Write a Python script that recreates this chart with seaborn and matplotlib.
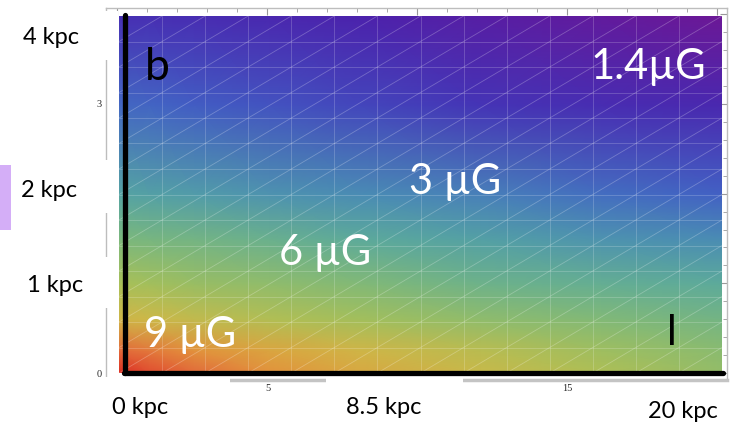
import matplotlib
matplotlib.use("Agg")
import matplotlib.pyplot as plt
from matplotlib.colors import LinearSegmentedColormap, Normalize
from matplotlib.patches import Rectangle
from matplotlib.lines import Line2D
import seaborn as sns
import numpy as np

# grid of the field map
r_kpc = [0, 1, 2.5, 5, 8, 12, 16, 20]
z_kpc = [0, 0.25, 0.6, 1, 1.5, 2, 3, 4]
b_field = [
    [9.0, 8.7, 8.4, 7.9, 7.4, 6.9, 6.4, 5.9],
    [8.4, 8.2, 7.9, 7.5, 7.1, 6.6, 6.1, 5.7],
    [7.1, 7.0, 6.8, 6.5, 6.2, 5.8, 5.5, 5.2],
    [6.3, 6.2, 6.0, 5.8, 5.5, 5.1, 4.9, 4.7],
    [5.4, 5.3, 5.2, 5.0, 4.7, 4.4, 4.1, 3.9],
    [4.5, 4.4, 4.3, 4.1, 3.9, 3.7, 3.4, 3.2],
    [3.3, 3.25, 3.15, 3.0, 2.8, 2.5, 2.3, 2.2],
    [2.4, 2.35, 2.3, 2.2, 2.0, 1.8, 1.6, 1.4],
]

# colour stops (field in uG -> colour)
stop_values = [1.4, 2.0, 2.6, 3.2, 3.9, 4.6, 5.4, 6.3, 7.0, 7.8, 8.5, 9.0]
stop_colors = ["#6c1896", "#4c22ac", "#4438b8", "#4262c4", "#4a8cb4", "#58a8a0",
               "#7cb87c", "#a8c058", "#cdb848", "#e29a3c", "#e2623a", "#dc2c22"]

field_labels = ["9 µG", "6 µG", "3 µG", "1.4µG"]
dist_labels = ["4 kpc", "2 kpc", "1 kpc", "0 kpc", "8.5 kpc", "20 kpc"]

sns.set_style("white")
plt.rcParams["font.family"] = ["Lato", "DejaVu Sans"]

W, H = 730, 422
fig = plt.figure(figsize=(W / 100, H / 100), dpi=100)


def fx(x):
    return x / W


def fy(y):
    return 1 - y / H


def white_box(x, y, w, h, color="white"):
    fig.add_artist(Rectangle((fx(x), fy(y + h)), w / W, h / H, transform=fig.transFigure,
                             facecolor=color, edgecolor="none", zorder=1))


# Mathematica style frame behind the image
frame = fig.add_axes([fx(106), fy(380), 621 / W, 372 / H], zorder=0)
frame.set_xlim(-0.383, 20.32)
frame.set_ylim(-0.078, 4.07)
frame.set_facecolor("none")
for side in ["left", "top", "right"]:
    frame.spines[side].set_color("#bdbdbd")
    frame.spines[side].set_linewidth(1.0)
frame.spines["bottom"].set_color("#c4c4c4")
frame.spines["bottom"].set_linewidth(2.5)
frame.set_xticks([0, 5, 10, 15, 20])
frame.set_xticklabels(["", "5", "", "15", ""])
frame.set_xticks(np.arange(0, 21, 1), minor=True)
frame.set_yticks([0, 1, 2, 3, 4])
frame.set_yticklabels(["0", "", "", "3", ""])
frame.set_yticks(np.arange(0, 4.01, 0.2), minor=True)
frame.tick_params(which="both", direction="in", top=True, right=True, color="#9a9a9a",
                  labelsize=7.5, pad=3)
frame.tick_params(which="major", length=5, width=0.8)
frame.tick_params(which="minor", length=3, width=0.6)
for lab in frame.get_xticklabels() + frame.get_yticklabels():
    lab.set_family("Liberation Serif")

# slide text boxes hiding parts of the frame
white_box(86, 11, 32, 49)
white_box(86, 160, 32, 53)
white_box(86, 257, 32, 51)
white_box(98, 377, 132, 45)
white_box(326, 376, 137, 46)
white_box(630, 386, 100, 36)
white_box(0, 165, 11, 65, color="#d4aef7")

# field map
ax = fig.add_axes([fx(119), fy(373), 603 / W, 357 / H], zorder=2)
cmap = LinearSegmentedColormap.from_list(
    "field", [((v - 1.4) / (9.0 - 1.4), c) for v, c in zip(stop_values, stop_colors)])
ax.pcolormesh(r_kpc, z_kpc, np.array(b_field), shading="gouraud", cmap=cmap,
              norm=Normalize(1.4, 9.0))
ax.set_xlim(0, 20)
ax.set_ylim(0, 4)
ax.axis("off")

# faint mesh lines
for k in range(1, 14):
    ax.axvline(k * 20 / 14, color="white", lw=0.6, alpha=0.22)
    ax.axhline(k * 4 / 14, color="white", lw=0.6, alpha=0.22)
for k in range(-14, 14):
    ax.axline((k * 20 / 14, 0), slope=0.2, color="white", lw=0.6, alpha=0.25)

# thick black axes drawn on the slide
fig.add_artist(Line2D([fx(125.5), fx(125.5)], [fy(15), fy(373)], color="black", lw=3.8,
                      transform=fig.transFigure, zorder=3))
fig.add_artist(Line2D([fx(124), fx(723)], [fy(373), fy(373)], color="black", lw=3.8,
                      transform=fig.transFigure, zorder=3))

# labels
kw = dict(ha="center", va="center", zorder=4)
fig.text(fx(157), fy(68), "b", fontsize=32, color="black", **kw)
fig.text(fx(672), fy(333), "l", fontsize=30, color="black", **kw)
field_pos = [(190, 335), (325, 253), (455, 182), (648, 67)]
for lab, (x, y) in zip(field_labels, field_pos):
    fig.text(fx(x), fy(y), lab, fontsize=30, color="white", **kw)
dist_pos = [(51, 38), (49, 191), (55, 286), (140, 408), (384, 408), (683, 411)]
for lab, (x, y) in zip(dist_labels, dist_pos):
    fig.text(fx(x), fy(y), lab, fontsize=17, color="black", **kw)

fig.savefig("out.png", dpi=100, facecolor="white")
